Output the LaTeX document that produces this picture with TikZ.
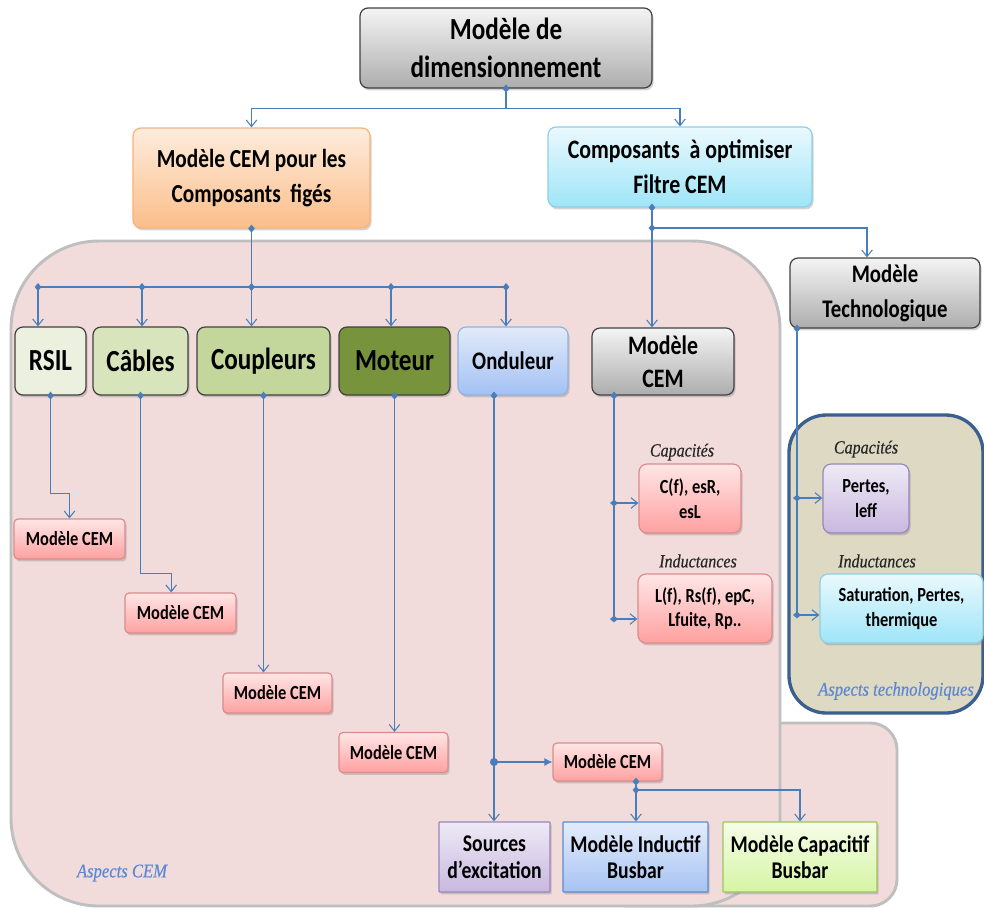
\documentclass[tikz,border=0pt]{standalone}
\usepackage{fontspec}
\setmainfont{Carlito}[FakeStretch=0.82]
\newfontfamily\labfont{Liberation Serif}[FakeStretch=0.86,FakeBold=0.4]
\usetikzlibrary{arrows.meta,shadows,calc}
\definecolor{lc}{HTML}{4A7EBB}
\definecolor{grT}{HTML}{F4F4F4}
\definecolor{grB}{HTML}{ADADAD}
\definecolor{orT}{HTML}{FDECDD}
\definecolor{orB}{HTML}{FBBE8A}
\definecolor{orD}{HTML}{F8B27A}
\definecolor{cyT}{HTML}{EAF9FD}
\definecolor{cyB}{HTML}{9EE5F8}
\definecolor{cyD}{HTML}{8FCFE4}
\definecolor{rsilC}{HTML}{EBF1DE}
\definecolor{cabC}{HTML}{D7E4BC}
\definecolor{coupC}{HTML}{C3D69B}
\definecolor{motC}{HTML}{77933C}
\definecolor{onT}{HTML}{E2EAF8}
\definecolor{onB}{HTML}{A3C1F4}
\definecolor{onD}{HTML}{8EB4E3}
\definecolor{pkT}{HTML}{FFE6E6}
\definecolor{pkB}{HTML}{FFA0A0}
\definecolor{pkD}{HTML}{D98C8C}
\definecolor{puT}{HTML}{EEEAF5}
\definecolor{puB}{HTML}{C8B8E0}
\definecolor{puD}{HTML}{9A85BB}
\definecolor{inT}{HTML}{E4ECFB}
\definecolor{inB}{HTML}{A6C3F2}
\definecolor{inD}{HTML}{5B8BD0}
\definecolor{caT}{HTML}{F6FDE9}
\definecolor{caB}{HTML}{D5F5A3}
\definecolor{caD}{HTML}{9BC460}
\definecolor{pinkR}{HTML}{F2DCDB}
\definecolor{pinkRD}{HTML}{BFBFBF}
\definecolor{techR}{HTML}{DDD9C3}
\definecolor{techRD}{HTML}{3B5F8F}
\definecolor{aspC}{HTML}{5B87D6}
\tikzset{
  ln/.style={draw=lc, line width=0.8pt},
  arw/.style={ln, arrows={-Straight Barb[length=5pt,width=8pt]}},
  darw/.style={ln, arrows={Diamond[length=6pt,width=5pt]-Straight Barb[length=5pt,width=8pt]}, shorten <=-3pt},
  dln/.style={ln, arrows={Diamond[length=6pt,width=5pt]-}, shorten <=-3pt},
  bx/.style={draw=black!75, line width=0.9pt, rounded corners=6pt, align=center, inner sep=0pt,
    font=\bfseries, drop shadow={shadow xshift=1.2pt,shadow yshift=-1.8pt,opacity=0.35}},
  graybx/.style={bx, top color=grT, bottom color=grB},
  pinkbx/.style={bx, draw=pkD, top color=pkT, bottom color=pkB, minimum height=30pt, rounded corners=3pt,
    font=\bfseries\fontsize{15}{18}\selectfont},
  sqbx/.style={bx, rounded corners=0.5pt, minimum height=52.5pt, font=\bfseries\fontsize{18}{20}\selectfont},
  lab/.style={font=\labfont\itshape\fontsize{14}{16}\selectfont, text=black!85, inner sep=0pt},
  asp/.style={font=\labfont\itshape\fontsize{14.5}{17}\selectfont, text=aspC, inner sep=0pt},
}
\begin{document}
\begin{tikzpicture}[x=0.75pt,y=-0.75pt]
\useasboundingbox (0,0) rectangle (984,908);
% regions
\draw[fill=pinkR, draw=pinkRD, line width=2.2pt, rounded corners=20pt] (600,723) rectangle (897,906);
\draw[fill=pinkR, draw=pinkRD, line width=2.2pt, rounded corners=66pt] (11,560) -- (11,241) -- (780,241) -- (780,906) -- (11,906) -- cycle;
\draw[fill=techR, draw=techRD, line width=2.5pt, rounded corners=28pt] (789,415) rectangle (983,713);
% nodes
\node[graybx, minimum width=219pt, minimum height=60pt, font=\bfseries\fontsize{23}{28}\selectfont] (top) at (506,48) {Modèle de\\dimensionnement};
\node[bx, draw=orD, top color=orT, bottom color=orB, minimum width=177.75pt, minimum height=75pt, font=\bfseries\fontsize{19.5}{26}\selectfont] (fig) at (251.5,178) {Modèle CEM pour les\\Composants~ figés};
\node[bx, draw=cyD, top color=cyT, bottom color=cyB, minimum width=198pt, minimum height=60pt, font=\bfseries\fontsize{20}{26}\selectfont] (opt) at (680,167) {Composants~ à optimiser\\Filtre CEM};
\node[bx, fill=rsilC, minimum width=53.25pt, minimum height=51pt, font=\bfseries\fontsize{23}{26}\selectfont] (rsil) at (50.5,361) {RSIL};
\node[bx, fill=cabC, minimum width=71.25pt, minimum height=51pt, font=\bfseries\fontsize{23}{26}\selectfont] (cab) at (140.5,361) {Câbles};
\node[bx, fill=coupC, minimum width=99.75pt, minimum height=51pt, font=\bfseries\fontsize{23}{26}\selectfont] (coup) at (263.5,361) {Coupleurs};
\node[bx, fill=motC, minimum width=83.25pt, minimum height=51pt, font=\bfseries\fontsize{23}{26}\selectfont] (mot) at (394.5,361) {Moteur};
\node[bx, draw=onD, top color=onT, bottom color=onB, minimum width=82.5pt, minimum height=51pt, font=\bfseries\fontsize{19}{24}\selectfont] (ond) at (513,361) {Onduleur};
\node[graybx, minimum width=106.5pt, minimum height=50.25pt, font=\bfseries\fontsize{20}{25}\selectfont] (mcg) at (663,361.5) {Modèle\\CEM};
\node[graybx, minimum width=142.5pt, minimum height=52.5pt, font=\bfseries\fontsize{19}{26}\selectfont] (tech) at (885,293) {Modèle\\Technologique};
\node[pinkbx, minimum width=83.25pt] (mc1) at (69.5,539) {Modèle CEM};
\node[pinkbx, minimum width=83.25pt] (mc2) at (180.5,613) {Modèle CEM};
\node[pinkbx, minimum width=81.75pt] (mc3) at (277.5,693) {Modèle CEM};
\node[pinkbx, minimum width=81.75pt] (mc4) at (393.5,752.5) {Modèle CEM};
\node[pinkbx, minimum width=81.75pt, minimum height=28.5pt] (mc5) at (607.5,762) {Modèle CEM};
\node[sqbx, draw=puD, top color=puT, bottom color=puB, minimum width=83.25pt] (src) at (494.5,857) {Sources\\d’excitation};
\node[sqbx, draw=inD, top color=inT, bottom color=inB, minimum width=108.75pt] (ind) at (635.5,857) {Modèle Inductif\\Busbar};
\node[sqbx, draw=caD, top color=caT, bottom color=caB, minimum width=115.5pt] (capb) at (800,857) {Modèle Capacitif\\Busbar};
\node[pinkbx, minimum width=76.5pt, minimum height=51.75pt, rounded corners=6pt, font=\bfseries\fontsize{15}{19}\selectfont] (cf) at (690,498.5) {C(f), esR,\\esL};
\node[pinkbx, minimum width=100.5pt, minimum height=51.75pt, rounded corners=6pt, font=\bfseries\fontsize{15}{18.5}\selectfont] (lf) at (705,608.5) {L(f), Rs(f), epC,\\Lfuite, Rp..};
\node[bx, draw=puD, top color=puT, bottom color=puB, minimum width=64.5pt, minimum height=51.75pt, font=\bfseries\fontsize{15}{19}\selectfont] (pertes) at (866,498.5) {Pertes,\\leff};
\node[bx, draw=cyD, top color=cyT, bottom color=cyB, minimum width=122.25pt, minimum height=51.75pt, font=\bfseries\fontsize{15}{19}\selectfont] (sat) at (901.5,608.5) {Saturation, Pertes,\\thermique};
% labels
\node[lab] (lcap1) at (682,452) {Capacités};
\node[lab] (lind1) at (698,561) {Inductances};
\node[lab] (lcap2) at (866,449) {Capacités};
\node[lab] (lind2) at (877,561) {Inductances};
\node[asp] (atech) at (896,691) {Aspects technologiques};
\node[asp] (acem) at (122,873) {Aspects CEM};
% connectors
\draw[darw] (top.south) -- ++(0,20) -| (fig.north);
\draw[arw] ([yshift=-15pt]top.south) -| (opt.north);
\coordinate (j1) at (38,287);
\coordinate (j2) at (142,287);
\coordinate (jc) at (251.5,287);
\coordinate (j4) at (391,287);
\coordinate (j5) at (506,287);
\draw[dln] (fig.south) -- (jc);
\draw[ln] (j1) -- (j5);
\draw[darw] (j1) -- (j1 |- rsil.north);
\draw[darw] (j2) -- (j2 |- cab.north);
\draw[darw] (jc) -- (jc |- coup.north);
\draw[darw] (j4) -- (j4 |- mot.north);
\draw[darw] (j5) -- (j5 |- ond.north);
\draw[darw] (rsil.south) -- ++(0,98) -| (mc1.north);
\draw[darw] (cab.south) -- ++(0,178) -| ([xshift=-7pt]mc2.north);
\draw[darw] (coup.south) -- (coup.south |- mc3.north);
\draw[darw] (mot.south) -- (mot.south |- mc4.north);
\coordinate (oj) at (494,762);
\draw[dln] (oj |- ond.south) -- (oj);
\draw[arw] (oj) -- (oj |- src.north);
\draw[ln, arrows={Circle[length=6pt]-Latex[length=6pt,width=6pt]}, shorten <=-3pt] (oj) -- (oj -| mc5.west);
\coordinate (mj) at (636,790);
\draw[dln] (mj |- mc5.south) -- (mj);
\draw[darw] (mj) -- (mj |- ind.north);
\draw[arw] (mj) -| (capb.north);
\coordinate (cj) at (652,228);
\draw[dln] (cj |- opt.south) -- (cj);
\draw[darw] (cj) -- (cj |- mcg.north);
\draw[arw] (cj) -| ([xshift=-13.5pt]tech.north);
\coordinate (g1) at (614,503);
\coordinate (g2) at (614,619);
\draw[dln] (g1 |- mcg.south) -- (g2);
\draw[darw] (g1) -- (g1 -| cf.west);
\draw[darw] (g2) -- (g2 -| lf.west);
\coordinate (t1) at (797,498);
\coordinate (t2) at (797,615);
\draw[dln] (t1 |- tech.south) -- (t2);
\draw[darw] (t1) -- (t1 -| pertes.west);
\draw[darw] (t2) -- (t2 -| sat.west);
\end{tikzpicture}
\end{document}
